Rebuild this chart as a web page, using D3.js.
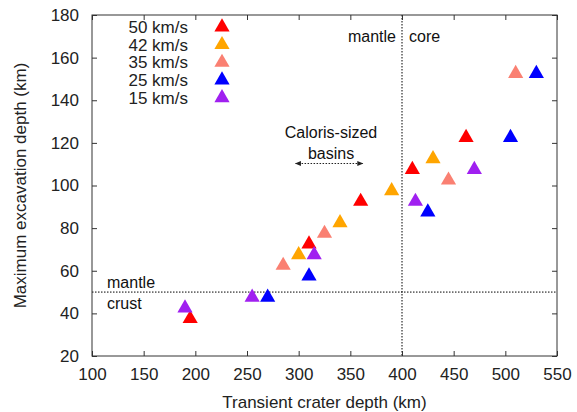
<!DOCTYPE html>
<html><head><meta charset="utf-8">
<script src="https://cdn.jsdelivr.net/npm/d3@7/dist/d3.min.js"></script>
<style>body{margin:0;background:#fff}svg{display:block;font-family:"Liberation Sans",Arial,sans-serif}</style>
</head><body><svg id="c" width="577" height="412"></svg>
<script>
const speeds = ["50 km/s","42 km/s","35 km/s","25 km/s","15 km/s"];
const colors = ["#ff0000","#ffa500","#fa8072","#0000ff","#a020f0"];
const red50    = [[195,37.5],[310,72.5],[360,92.5],[410,107.5],[462,122.5]];
const orange42 = [[300,67.5],[340,82.5],[390,97.5],[430,112.5]];
const salmon35 = [[285,62.5],[325,77.5],[445,102.5],[510,152.5]];
const blue25   = [[270,47.5],[310,57.5],[425,87.5],[505,122.5],[530,152.5]];
const purple15 = [[190,42.5],[255,47.5],[315,67.5],[413,92.5],[470,107.5]];
const seriesData = [red50, orange42, salmon35, blue25, purple15];
const xTicks = [100,150,200,250,300,350,400,450,500,550];
const yTicks = [20,40,60,80,100,120,140,160,180];

const svg = d3.select("#c");
const L=92,R=557,T=15,B=356;
const x = d3.scaleLinear().domain([100,550]).range([L,R]);
const y = d3.scaleLinear().domain([20,180]).range([B,T]);
const fs = 17;

// dotted reference lines
svg.append("line").attr("x1",x(400)).attr("x2",x(400)).attr("y1",T).attr("y2",B)
  .attr("stroke","#000").attr("stroke-width",1).attr("stroke-dasharray","1.5,1.5");
svg.append("line").attr("x1",L).attr("x2",R).attr("y1",y(50)).attr("y2",y(50))
  .attr("stroke","#000").attr("stroke-width",1).attr("stroke-dasharray","1.5,1.5");

// axes (inward ticks, mirrored)
const ax = [
  [d3.axisBottom(x).tickValues(xTicks).tickSize(-5).tickPadding(12), `translate(0,${B})`, true],
  [d3.axisTop(x).tickValues(xTicks).tickSize(-5), `translate(0,${T})`, false],
  [d3.axisLeft(y).tickValues(yTicks).tickSize(-5).tickPadding(13), `translate(${L},0)`, true],
  [d3.axisRight(y).tickValues(yTicks).tickSize(-5), `translate(${R},0)`, false]
];
ax.forEach(([a,t,lab])=>{
  const g = svg.append("g").attr("transform",t).call(a);
  g.select(".domain").remove();
  g.selectAll("line").attr("stroke","#333");
  if(!lab) g.selectAll("text").remove();
  else g.selectAll("text").attr("font-size",fs).attr("fill","#222").attr("font-family",'"Liberation Sans",Arial,sans-serif');
});
svg.append("rect").attr("x",L).attr("y",T).attr("width",R-L).attr("height",B-T)
  .attr("fill","none").attr("stroke","#333").attr("stroke-width",1);

// axis titles
svg.append("text").attr("x",(L+R)/2).attr("y",408).attr("text-anchor","middle")
  .attr("font-size",fs).attr("fill","#222").text("Transient crater depth (km)");
svg.append("text").attr("transform",`translate(26,${(T+B)/2}) rotate(-90)`).attr("text-anchor","middle")
  .attr("font-size",fs).attr("fill","#222").text("Maximum excavation depth (km)");

// annotations
const ann = (tx,ty,s,anchor)=>svg.append("text").attr("x",tx).attr("y",ty).attr("text-anchor",anchor||"start")
  .attr("font-size",16).attr("fill","#111").text(s);
ann(396,42,"mantle","end");
ann(409,42,"core");
ann(107,288,"mantle");
ann(107,309,"crust");
ann(331,138,"Caloris-sized","middle");
ann(331,159,"basins","middle");

// double arrow
const defs = svg.append("defs");
defs.append("marker").attr("id","ah").attr("viewBox","0 0 10 10").attr("refX",9).attr("refY",5)
  .attr("markerWidth",8).attr("markerHeight",6).attr("orient","auto-start-reverse")
  .append("path").attr("d","M0,1 L10,5 L0,9 z").attr("fill","#222");
svg.append("line").attr("x1",x(297)).attr("x2",x(362)).attr("y1",163.5).attr("y2",163.5)
  .attr("stroke","#222").attr("stroke-width",1).attr("stroke-dasharray","1.5,1.5")
  .attr("marker-start","url(#ah)").attr("marker-end","url(#ah)");

// points
const sym = d3.symbol().type(d3.symbolTriangle).size(100);
seriesData.forEach((arr,i)=>{
  svg.append("g").selectAll("path").data(arr).join("path")
    .attr("transform",d=>`translate(${x(d[0])},${y(d[1])})`)
    .attr("d",sym).attr("fill",colors[i]);
});

// legend
speeds.forEach((s,i)=>{
  const cy = 27 + i*17.7;
  svg.append("text").attr("x",188).attr("y",cy+6).attr("text-anchor","end")
    .attr("font-size",fs).attr("fill","#222").text(s);
  svg.append("path").attr("transform",`translate(222,${cy})`).attr("d",sym).attr("fill",colors[i]);
});
</script></body></html>
